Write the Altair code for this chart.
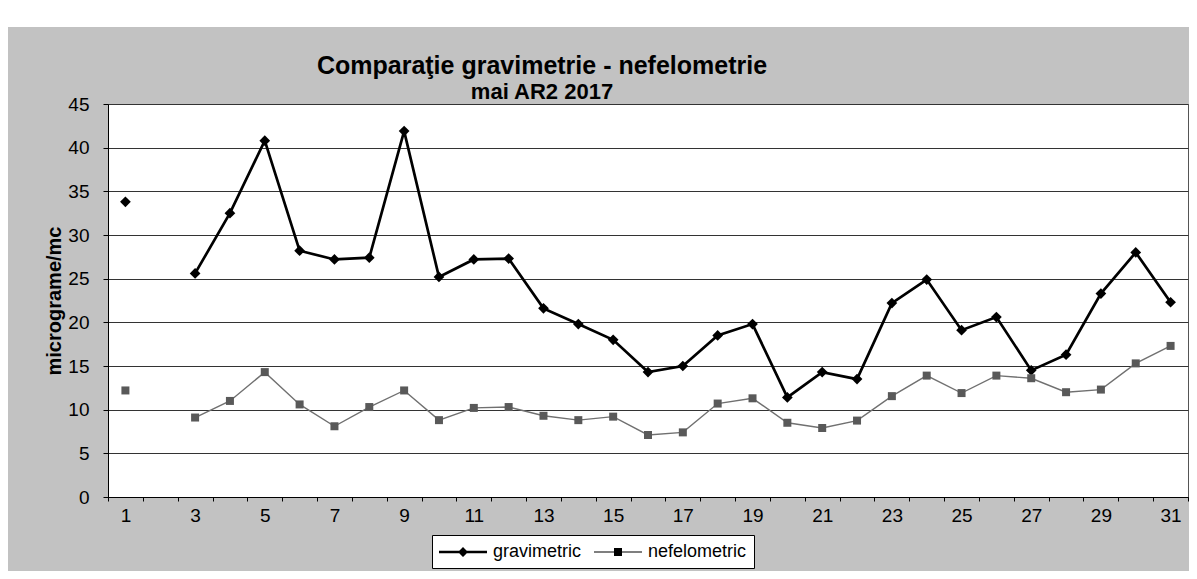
import altair as alt
import pandas as pd

# ---- data ----
days = list(range(1, 32))
gravimetric = [33.8, None, 25.6, 32.5, 40.8, 28.2, 27.2, 27.4, 41.9, 25.2,
               27.2, 27.3, 21.6, 19.8, 18.0, 14.3, 15.0, 18.5, 19.8, 11.4,
               14.3, 13.5, 22.2, 24.9, 19.1, 20.6, 14.5, 16.3, 23.3, 28.0, 22.3]
nefelometric = [12.2, None, 9.1, 11.0, 14.3, 10.6, 8.1, 10.3, 12.2, 8.8,
                10.2, 10.3, 9.3, 8.8, 9.2, 7.1, 7.4, 10.7, 11.3, 8.5,
                7.9, 8.75, 11.55, 13.9, 11.9, 13.9, 13.6, 12.0, 12.3, 15.3, 17.3]
series_names = ["gravimetric", "nefelometric"]
y_ticks = list(range(0, 50, 5))
title_text = "Comparaţie gravimetrie - nefelometrie"
subtitle_text = "mai AR2 2017"
y_title = "micrograme/mc"

rows = []
for d, g, n in zip(days, gravimetric, nefelometric):
    rows.append({"day": d, "series": series_names[0], "value": g})
    rows.append({"day": d, "series": series_names[1], "value": n})
df = pd.DataFrame(rows)

FONT = "Liberation Sans"
W, H = 1080, 393

x_enc = alt.X(
    "day:O",
    scale=alt.Scale(type="band", domain=days, paddingInner=0, paddingOuter=0),
    axis=alt.Axis(
        title=None, labelAngle=0, grid=False, tickBand="extent",
        labelExpr="datum.value % 2 == 1 ? datum.label : ''",
        labelFont=FONT, labelFontSize=19, labelColor="black",
        labelPadding=5, tickSize=4, tickColor="black",
        domainColor="black", domainWidth=1,
    ),
)
y_enc = alt.Y(
    "value:Q",
    scale=alt.Scale(domain=[0, 45], nice=False, zero=True),
    axis=alt.Axis(
        values=y_ticks, title=y_title, grid=True, gridColor="#333333",
        gridWidth=1, labelFont=FONT, labelFontSize=19, labelColor="black",
        labelPadding=14, tickSize=5, tickColor="black", domainColor="black",
        titleFont=FONT, titleFontSize=20, titleFontWeight="bold",
        titleColor="black", titleX=-54, titleY=H / 2, titleAlign="center",
        titleBaseline="middle", titleAngle=-90,
    ),
)

lines = alt.Chart(df).mark_line(invalid="break-paths-show-domains").encode(
    x=x_enc,
    y=y_enc,
    stroke=alt.Stroke("series:N", scale=alt.Scale(domain=series_names, range=["#000000", "#707070"]), legend=None),
    strokeWidth=alt.StrokeWidth("series:N", scale=alt.Scale(domain=series_names, range=[2.7, 1.4]), legend=None),
    detail="series:N",
)

points = alt.Chart(df).mark_point(filled=True, opacity=1).encode(
    x=x_enc,
    y=y_enc,
    color=alt.Color("series:N", scale=alt.Scale(domain=series_names, range=["#000000", "#595959"]), legend=None),
    shape=alt.Shape("series:N", scale=alt.Scale(domain=series_names, range=["diamond", "square"]), legend=None),
    size=alt.Size("series:N", scale=alt.Scale(domain=series_names, range=[115, 64]), legend=None),
)

# legend glyphs: a short line with the marker in its middle (units of 10 px)
legend_paths = [
    "M-1,-0.12H3.8V0.12H-1Z M1.4,-0.5L1.9,0L1.4,0.5L0.9,0Z",
    "M-1,-0.06H3.8V0.06H-1Z M1.0,-0.4H1.8V0.4H1.0Z",
]
legend_props = dict(
    title=None, orient="none", legendX=324, legendY=431,
    direction="horizontal", fillColor="white", strokeColor="black",
    padding=7, labelFont=FONT, labelFontSize=18, labelColor="black",
    symbolSize=400, symbolStrokeWidth=0, labelOffset=34,
    columnPadding=12, symbolOpacity=1,
)
legend_layer = alt.Chart(df).transform_filter("false").mark_point(
    filled=True, opacity=1, size=400
).encode(
    x=x_enc,
    y=y_enc,
    color=alt.Color(
        "series:N",
        scale=alt.Scale(domain=series_names, range=["#000000", "#595959"]),
        legend=alt.Legend(**legend_props),
    ),
    shape=alt.Shape(
        "series:N",
        scale=alt.Scale(domain=series_names, range=legend_paths),
        legend=alt.Legend(**legend_props),
    ),
)

strip = alt.Chart(pd.DataFrame({"k": [0]})).mark_rect(color="white", clip=False).encode(
    x=alt.value(-100), x2=alt.value(1081), y=alt.value(-96), y2=alt.value(-77)
)

chart = alt.layer(strip, lines, points, legend_layer).resolve_scale(
    shape="independent"
).properties(
    width=W,
    height=H,
    autosize=alt.AutoSizeParams(type="none"),
    padding={"left": 100, "top": 96, "right": 1, "bottom": 74},
    background="#c2c2c2",
    title=alt.TitleParams(
        text=title_text, subtitle=subtitle_text, font=FONT, fontSize=25,
        fontWeight="bold", color="black", subtitleFont=FONT,
        subtitleFontSize=22, subtitleFontWeight="bold", subtitleColor="black",
        subtitlePadding=3, anchor="middle", frame="group", dx=-106,
        offset=0, dy=95,
    ),
).configure_view(fill="white", stroke="#555555", strokeWidth=1)

chart.save("out.html", embed_options={"renderer": "svg", "actions": False})
